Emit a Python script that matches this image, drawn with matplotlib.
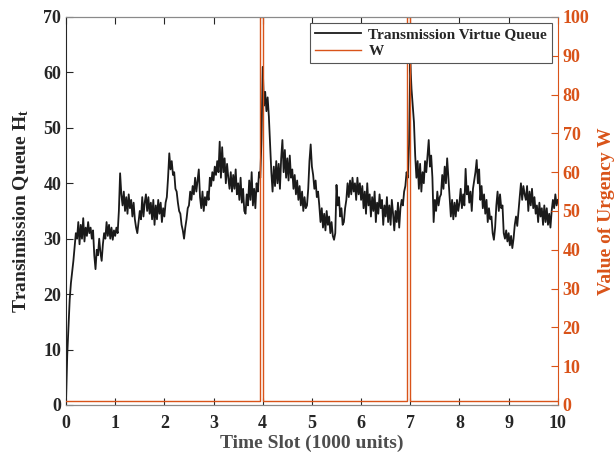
import matplotlib

matplotlib.use('Agg')
import matplotlib.pyplot as plt
import numpy as np

# queue values, read every 0.025 (1000 units) from the picture
queue = [
    0.5, 9, 14, 19, 22, 24, 26, 28.5, 31, 30, 33, 29, 32.5, 30, 33.7, 29.5, 32, 30.5, 33, 31,
    32, 30, 31.5, 27, 24.5, 28, 27, 30, 27.5, 26, 29, 31, 30, 33, 30.5, 32.5, 30, 32, 29.8, 31.5,
    30.5, 32, 31, 35, 41.8, 38, 36, 38.5, 35, 37.5, 34.5, 38, 35.5, 37, 34, 36.5, 33.5, 32, 31, 33,
    35, 33.5, 37.5, 34, 36.5, 38, 35, 37.5, 34.5, 36.5, 33.5, 37, 32.5, 36, 33.5, 37, 34.5, 36.5, 33, 35.5,
    34, 36.5, 37.5, 41, 45.4, 42.5, 44, 41.5, 42, 39, 38.5, 36.5, 35, 34.5, 32.5, 31.5, 30, 32, 33.5, 35.5,
    36, 38.5, 37, 39.5, 38, 41, 38.5, 40.5, 42.5, 37.5, 35.5, 38.5, 35, 37.5, 36, 38.5, 37, 41, 39.5, 42,
    40.5, 43, 41.5, 44, 42, 47.5, 41, 46.5, 42, 44.5, 40, 43.5, 41, 39, 42, 38.5, 41.5, 39, 42.5, 38,
    40, 37, 41, 36.5, 39, 35, 34.5, 38, 36, 40.5, 37, 42, 36, 39, 35.5, 40, 38.5, 42, 41, 48,
    61, 54, 56.5, 53, 55.5, 52, 47, 42, 38.5, 43, 39.5, 44, 40, 43.5, 39, 44.5, 47.8, 42, 46, 41,
    44.5, 40.5, 45, 41, 42.5, 39, 41.5, 38, 40.5, 37, 39.5, 36, 38.5, 35, 37.5, 35.5, 36, 39, 44, 47,
    43, 41.5, 39, 40.5, 37.5, 38.5, 36, 33, 35.5, 32, 34.5, 31.5, 35, 32.5, 34, 31, 33, 30.5, 29.8, 31,
    39.7, 36, 37.5, 34, 35.5, 32.5, 33, 35.5, 37, 40, 37.5, 40.5, 38, 41, 38.5, 40, 37, 41, 38, 40,
    37, 39.5, 35.5, 38.5, 34.5, 40, 36, 38, 34, 37.5, 35, 38.5, 33, 36.5, 34.5, 38, 35.5, 37, 32.5, 36,
    34, 37.5, 33, 36, 32.5, 37, 34.5, 31.5, 35, 33, 36.5, 32, 35.5, 37, 36, 38.5, 39.5, 42, 41, 47,
    62, 57, 54, 51, 45, 41, 44, 39, 43.5, 38.5, 42, 40, 44, 42, 45, 47.8, 43, 45, 41, 33,
    37, 35, 38.5, 36, 37.5, 38, 41.5, 39, 43, 40, 44.5, 41, 37.5, 34, 37, 33.5, 36.5, 34, 37, 35,
    36.5, 39, 35.5, 38, 36, 42.6, 38, 39.5, 36.5, 38.5, 35, 39, 40.5, 42, 44.2, 40, 42.5, 37, 39.5, 35.5,
    38, 34.5, 37, 33, 35.5, 33.5, 34, 31, 29.8, 32, 36, 38.5, 35, 38, 35.5, 36, 31, 30, 31.5, 29.5,
    31, 28.8, 30.5, 28.3, 30, 32.5, 34, 32.3, 35, 37.5, 40, 37, 39.5, 38, 37, 39.5, 35, 38.5, 36, 39,
    35.5, 37.5, 34.5, 36, 33, 36.5, 34, 35.5, 32.5, 36, 33, 35.5, 32.5, 34.5, 32, 35, 37, 35.5, 38, 36,
    37,
]
time_slot = np.linspace(0, 10, len(queue))

# urgency W: flat at 1, jumps to 100 just before slot 4 and slot 7
w_time = [0, 3.94, 3.94, 4.0, 4.0, 6.94, 6.94, 7.0, 7.0, 10]
w_value = [1, 1, 100, 100, 1, 1, 100, 100, 1, 1]

DARK = '#262626'
ORANGE = '#D95319'

plt.rcParams['font.family'] = ['Liberation Serif', 'DejaVu Serif']
plt.rcParams['font.weight'] = 'bold'
plt.rcParams['mathtext.fontset'] = 'custom'
plt.rcParams['mathtext.rm'] = 'Liberation Serif:bold'
plt.rcParams['mathtext.bf'] = 'Liberation Serif:bold'
plt.rcParams['mathtext.it'] = 'Liberation Serif:bold'

fig = plt.figure(figsize=(6.14, 4.54), dpi=100)
ax = fig.add_axes([0.1075, 0.108, 0.801, 0.8546])
ax2 = ax.twinx()

l1, = ax.plot(time_slot, queue, color='#1a1a1a', lw=1.3, label='Transmission Virtue Queue')
l2, = ax2.plot(w_time, w_value, color=ORANGE, lw=1.0, label='W')

ax.set_xlim(0, 10)
ax.set_ylim(0, 70)
ax2.set_ylim(0, 100)
ax.set_xticks(range(0, 11))
ax.set_yticks(range(0, 71, 10))
ax2.set_yticks(range(0, 101, 10))

ax.tick_params(axis='both', direction='in', length=5, width=0.8, colors=DARK,
               labelsize=13, top=True, right=False)
ax.tick_params(axis='x', pad=7)
ax2.tick_params(axis='y', direction='in', length=5, width=0.8, colors=ORANGE, labelsize=13)
ax2.tick_params(axis='x', top=False)
for lab in ax.get_xticklabels() + ax.get_yticklabels() + ax2.get_yticklabels():
    lab.set_fontweight('bold')

for s in ['left', 'bottom', 'top']:
    ax.spines[s].set_color('#8a8a8a')
    ax2.spines[s].set_color('#8a8a8a')
ax.spines['left'].set_color(DARK)
ax2.spines['left'].set_visible(False)
ax.spines['right'].set_visible(False)
ax2.spines['right'].set_color(ORANGE)
for s in ax2.spines.values():
    s.set_linewidth(0.8)

ax.set_xlabel('Time Slot (1000 units)', fontsize=14, fontweight='bold', color='#4d4d4d', labelpad=2)
ax.set_ylabel(r'Transimission Queue H$_\mathrm{t}$', fontsize=14, fontweight='bold', color=DARK, labelpad=9)
ax2.set_ylabel('Value of Urgency W', fontsize=14, fontweight='bold', color=ORANGE, labelpad=6)

leg = ax2.legend([l1, l2], ['Transmission Virtue Queue', 'W'], loc='upper right',
                 fontsize=11, fancybox=False, framealpha=1, edgecolor='#555555',
                 borderpad=0.3, labelspacing=0.2, handlelength=3.0, handletextpad=0.5,
                 borderaxespad=0.4)
leg.get_frame().set_linewidth(0.8)
for t in leg.get_texts():
    t.set_fontweight('bold')
    t.set_color(DARK)

fig.savefig('out.png', dpi=100)
